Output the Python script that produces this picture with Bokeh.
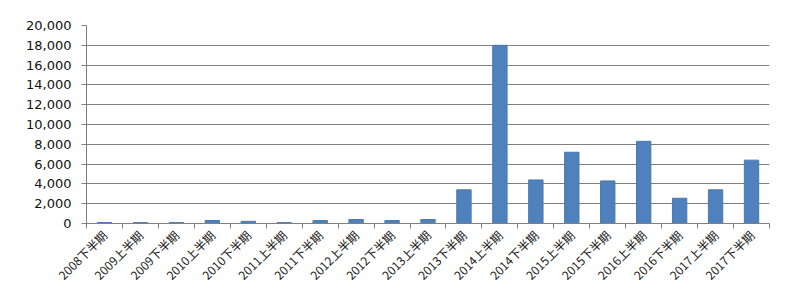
from bokeh.plotting import figure
from bokeh.models import FixedTicker, Range1d, NumeralTickFormatter
from bokeh.embed import file_html
from bokeh.resources import INLINE
import math

categories = ["2008下半期", "2009上半期", "2009下半期", "2010上半期", "2010下半期",
              "2011上半期", "2011下半期", "2012上半期", "2012下半期", "2013上半期",
              "2013下半期", "2014上半期", "2014下半期", "2015上半期", "2015下半期",
              "2016上半期", "2016下半期", "2017上半期", "2017下半期"]
values = [100, 90, 90, 300, 220, 90, 300, 400, 300, 400,
          3400, 18000, 4400, 7200, 4300, 8300, 2550, 3400, 6400]
y_ticks = [0, 2000, 4000, 6000, 8000, 10000, 12000, 14000, 16000, 18000, 20000]

n = len(categories)
xs = [i + 0.5 for i in range(n)]

p = figure(width=800, height=295, output_backend="svg", toolbar_location=None,
           x_range=Range1d(0, n), y_range=Range1d(0, 20000),
           min_border_left=86, min_border_right=31, min_border_top=25, min_border_bottom=72)
p.outline_line_color = None
p.background_fill_color = "white"

p.vbar(x=xs, top=values, width=0.4, fill_color="#4F81BD", line_color="#4A7AB3")

# x axis
p.xaxis.ticker = FixedTicker(ticks=xs, minor_ticks=list(range(n + 1)))
p.xaxis.major_label_overrides = {x: c for x, c in zip(xs, categories)}
p.xaxis.major_label_orientation = math.pi / 4
p.xaxis.major_tick_line_color = None
p.xaxis.minor_tick_in = 0
p.xaxis.minor_tick_out = 5
p.xaxis.minor_tick_line_color = "#808080"
p.xaxis.axis_line_color = "#808080"
p.xaxis.major_label_text_font = "Noto Sans CJK JP"
p.xaxis.major_label_text_font_size = "12px"
p.xaxis.major_label_text_color = "#222222"
p.xaxis.major_label_standoff = 3
p.xgrid.grid_line_color = None

# y axis
p.yaxis.ticker = FixedTicker(ticks=y_ticks, minor_ticks=[])
p.yaxis.formatter = NumeralTickFormatter(format="0,0")
p.yaxis.major_tick_in = 0
p.yaxis.major_tick_out = 5
p.yaxis.major_tick_line_color = "#808080"
p.yaxis.axis_line_color = "#808080"
p.yaxis.major_label_text_font = "DejaVu Sans"
p.yaxis.major_label_text_font_size = "13px"
p.yaxis.major_label_text_color = "#111111"
p.yaxis.major_label_standoff = 10
p.ygrid.ticker = FixedTicker(ticks=y_ticks)
p.ygrid.grid_line_color = "#808080"
p.ygrid.grid_line_width = 1

open("out.html", "w").write(file_html(p, INLINE))
